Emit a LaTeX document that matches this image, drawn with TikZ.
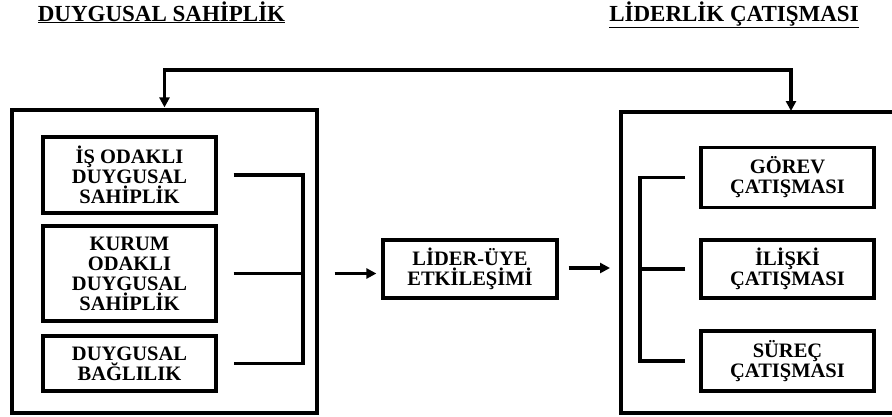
\documentclass[tikz,border=0pt]{standalone}
\usepackage{fontspec}
\setmainfont{Liberation Serif}
\usetikzlibrary{arrows.meta}
\begin{document}
\begin{tikzpicture}[x=1pt,y=-1pt,
  box/.style={draw, line width=3.2pt, align=center, inner sep=0pt,
    font=\bfseries\fontsize{20.5}{20}\selectfont, minimum width=173pt},
  frame/.style={draw, line width=3.2pt, inner sep=0pt},
  wire/.style={line width=3.2pt},
  tip/.tip={Triangle[length=10pt,width=10pt]},
  arr/.style={line width=3.2pt, -tip},
  heading/.style={anchor=base, inner sep=0pt,
    font=\bfseries\fontsize{23}{24}\selectfont}]
\useasboundingbox (0,0) rectangle (892,416);

% headings
\node[heading] (t1) at (161.5,21) {\underline{DUYGUSAL SAHİPLİK}};
\node[heading] (t2) at (734,21) {\underline{LİDERLİK ÇATIŞMASI}};

% left group
\node[frame, minimum width=305pt, minimum height=303pt] (oL) at (164.5,261.5) {};
\node[box, minimum height=76pt] (b1) at (129.5,175) {İŞ ODAKLI\\DUYGUSAL\\SAHİPLİK};
\node[box, minimum height=95pt] (b2) at (129.5,273.5) {KURUM\\ODAKLI\\DUYGUSAL\\SAHİPLİK};
\node[box, minimum height=55pt] (b3) at (129.5,363.5) {DUYGUSAL\\BAĞLILIK};

% middle
\node[box, minimum width=174pt, minimum height=58pt] (mid) at (470,269) {LİDER-ÜYE\\ETKİLEŞİMİ};

% right group (frame runs past the right edge)
\coordinate (oRtop) at (791,112);
\coordinate (oRwest) at (621,268);
\draw[wire] (892,112) -- (621,112) -- (621,413) -- (892,413);
\node[box, minimum height=60pt] (r1) at (787.5,177.5) {GÖREV\\ÇATIŞMASI};
\node[box, minimum height=58pt] (r2) at (787.5,269) {İLİŞKİ\\ÇATIŞMASI};
\node[box, minimum height=60pt] (r3) at (787.5,361) {SÜREÇ\\ÇATIŞMASI};

% brackets
\coordinate (jl) at (303,0);
\draw[wire] ([xshift=16pt]b1.east) -- (b1.east -| jl) -- (b3.east -| jl) -- ([xshift=16pt]b3.east);
\draw[wire] ([xshift=16pt]b2.east) -- (b2.east -| jl);
\coordinate (jr) at (640,0);
\draw[wire] ([xshift=-14pt]r1.west) -- (r1.west -| jr) -- (r3.west -| jr) -- ([xshift=-14pt]r3.west);
\draw[wire] ([xshift=-14pt]r2.west) -- (r2.west -| jr);

% arrows
\draw[arr] ([xshift=16pt]oL.east |- b2.east) -- ([xshift=-5pt]mid.west |- b2.east);
\draw[arr] ([xshift=10pt]mid.east |- oRwest) -- ([xshift=-11pt]oRwest);

% feedback loop on top
\coordinate (top) at (0,70);
\draw[wire, tip-tip, shorten <=1pt, shorten >=1pt] (oL.north) -- (oL.north |- top) -| (oRtop);
\end{tikzpicture}
\end{document}
